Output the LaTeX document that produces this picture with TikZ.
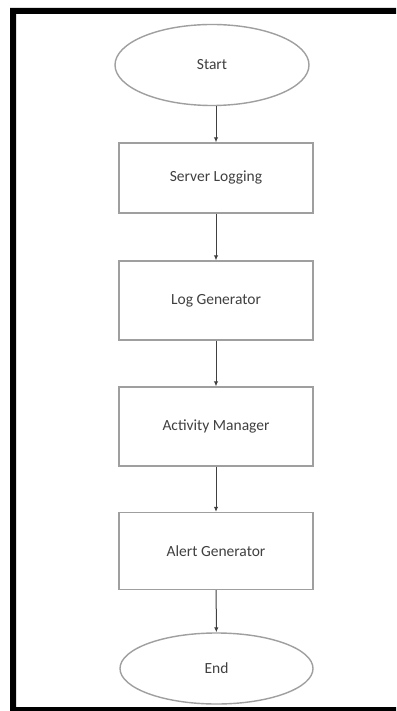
\documentclass[tikz,border=0pt]{standalone}
\usepackage{fontspec}
\setmainfont{Carlito}
\usetikzlibrary{shapes.geometric,arrows.meta}
\begin{document}
\begin{tikzpicture}[x=1pt,y=-1pt]
        \tikzset{block/.style = {shape=rectangle,draw=gray!75,line width=1.4pt,minimum width=194pt,text=black!75,font=\fontsize{15.5}{18}\selectfont}};
        \tikzset{term/.style = {shape=ellipse,draw=gray!75,line width=1.4pt,minimum width=194pt,text=black!75,font=\fontsize{15.5}{18}\selectfont}};
        \tikzset{flow/.style = {-{Latex[length=5pt,width=4.5pt]},draw=black!75,line width=1pt}};
        \useasboundingbox (0,0) rectangle (396,711);
        \fill[white] (0,0) rectangle (396,711);
        % frame
        \fill[black] (10,8) rectangle (396,14) (10,8) rectangle (16,711) (10,707) rectangle (396,711);
        \node[term, minimum height=81pt] (start) at (212,65) {Start};
        \node[block, minimum height=70pt] (server) at (216,178) {Server Logging};
        \draw[flow] (server.north |- start.south) to (server) ;
        \node[block, minimum height=79pt] (loggen) at (216,300.5) {Log Generator};
        \draw[flow] (server) to (loggen) ;
        \node[block, minimum height=79pt] (activity) at (216,426.5) {Activity Manager};
        \draw[flow] (loggen) to (activity) ;
        \node[block, minimum height=77pt] (alert) at (216,551) {Alert Generator};
        \draw[flow] (activity) to (alert) ;
        \node[term, minimum width=193pt, minimum height=71pt] (end) at (216.5,668.5) {End};
        \draw[flow] (alert) to (end) ;
\end{tikzpicture}
\end{document}
